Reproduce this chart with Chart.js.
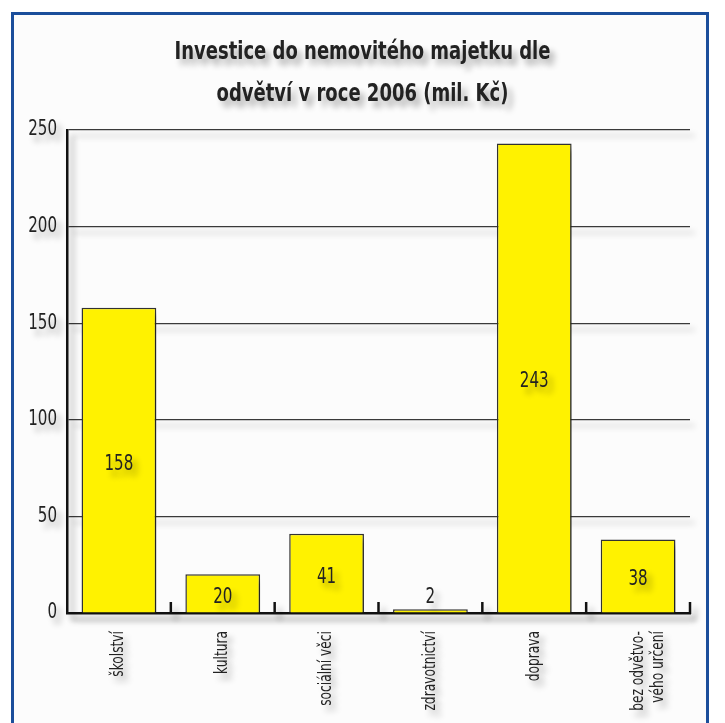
<!DOCTYPE html>
<html>
<head>
<meta charset="utf-8">
<script src="https://cdn.jsdelivr.net/npm/chart.js@4"></script>
<style>
  html, body { margin: 0; padding: 0; background: #ffffff; }
  #wrap { position: relative; width: 725px; height: 723px; overflow: hidden; }
  #panel { position: absolute; left: 11px; top: 12px; width: 692px; height: 720px;
           border: 3px solid #1b4e9b; border-bottom: none; background: #fcfcfc; }
  #c { position: absolute; left: 0; top: 0; }
</style>
</head>
<body>
<div id="wrap">
  <div id="panel"></div>
  <canvas id="c" width="725" height="723"></canvas>
</div>
<script>
const titleLines = ["Investice do nemovitého majetku dle", "odvětví v roce 2006 (mil. Kč)"];
const categories = ["školství", "kultura", "sociální věci", "zdravotnictví", "doprava", ["bez odvětvo-", "vého určení"]];
const values = [158, 20, 41, 2, 243, 38];
const yTicks = [0, 50, 100, 150, 200, 250];

const FONT = "'DejaVu Sans Condensed', 'Liberation Sans Narrow', sans-serif";
const SX = 0.8; // horizontal compression to mimic a condensed typeface

const canvas = document.getElementById('c');
const ctx2d = canvas.getContext('2d');
const origFill = ctx2d.fillText.bind(ctx2d);
ctx2d.fillText = function (t, x, y, mw) {
  this.save();
  this.translate(x, y);
  this.scale(SX, 1);
  if (mw !== undefined && mw !== null) origFill(t, 0, 0, mw / SX);
  else origFill(t, 0, 0);
  this.restore();
};

const shadowPlugin = {
  id: 'shadow',
  afterLayout(chart) {
    const tb = chart.titleBlock;
    if (tb) { tb.left = 0; tb.right = chart.width; tb.width = chart.width; }
  },
  beforeDraw(chart) {
    const ctx = chart.ctx;
    ctx.shadowColor = 'rgba(0,0,0,0.33)';
    ctx.shadowBlur = 6;
    ctx.shadowOffsetX = 5;
    ctx.shadowOffsetY = 6;
  }
};

const tickMarks = {
  id: 'tickMarks',
  afterDraw(chart) {
    const xs = chart.scales.x;
    const ctx = chart.ctx;
    const y0 = xs.top;
    const n = categories.length;
    const half = (xs.getPixelForValue(1) - xs.getPixelForValue(0)) / 2;
    ctx.save();
    ctx.strokeStyle = '#111';
    ctx.lineWidth = 2.5;
    for (let i = 0; i < n; i++) {
      const x = xs.getPixelForValue(i) + half;
      ctx.beginPath();
      ctx.moveTo(x, y0 + 1);
      ctx.lineTo(x, y0 - 11);
      ctx.stroke();
    }
    ctx.restore();
  }
};

const valueLabels = {
  id: 'valueLabels',
  afterDatasetsDraw(chart) {
    const ctx = chart.ctx;
    const meta = chart.getDatasetMeta(0);
    ctx.save();
    ctx.font = "21px " + FONT;
    ctx.fillStyle = '#222';
    ctx.textAlign = 'center';
    ctx.textBaseline = 'middle';
    meta.data.forEach((bar, i) => {
      const top = bar.y, base = bar.base;
      const h = base - top;
      let y;
      if (h < 20) y = top - 12;
      else y = (top + base) / 2 + 4;
      ctx.fillText(String(values[i]), bar.x, y);
    });
    ctx.restore();
  }
};

new Chart(ctx2d, {
  type: 'bar',
  data: {
    labels: categories,
    datasets: [{
      data: values,
      backgroundColor: '#fff200',
      borderColor: '#333333',
      borderWidth: 1.5,
      categoryPercentage: 0.9,
      barPercentage: 0.8
    }]
  },
  options: {
    responsive: false,
    animation: false,
    devicePixelRatio: 1,
    layout: { padding: { left: 0, right: 35, top: 0, bottom: 0 } },
    plugins: {
      legend: { display: false },
      tooltip: { enabled: false },
      title: {
        display: true,
        text: titleLines,
        color: '#222',
        font: { family: FONT, size: 25, weight: 'bold', lineHeight: 1.7 },
        padding: { top: 31, bottom: 14 }
      }
    },
    scales: {
      x: {
        grid: { display: false },
        border: { display: true, color: '#111', width: 2.5 },
        ticks: {
          color: '#222',
          font: { family: FONT, size: 17 },
          minRotation: 90, maxRotation: 90,
          padding: 10
        },
        afterFit(scale) { scale.height = 110; }
      },
      y: {
        min: 0, max: 250,
        afterBuildTicks(scale) { scale.ticks = yTicks.map(v => ({ value: v })); },
        grid: { color: '#3a3a3a', lineWidth: 1.2, drawTicks: false },
        border: { display: true, color: '#111', width: 2.5 },
        ticks: {
          color: '#222',
          font: { family: FONT, size: 21 },
          padding: 10
        },
        afterFit(scale) { scale.width = 67; }
      }
    }
  },
  plugins: [shadowPlugin, tickMarks, valueLabels]
});
</script>
</body>
</html>
